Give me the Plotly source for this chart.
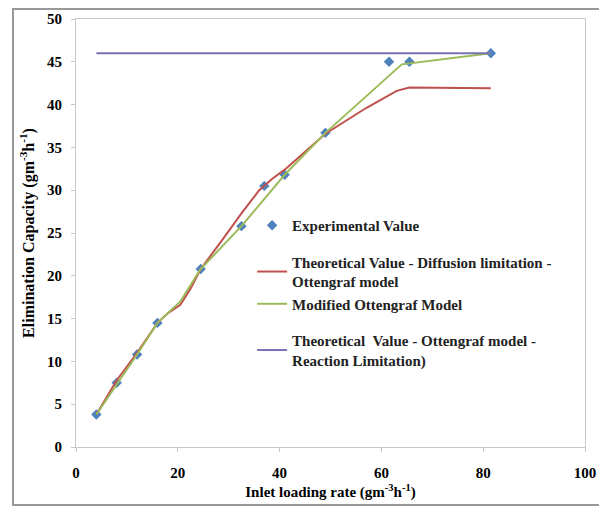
import plotly.graph_objects as go

# Experimental values
exp_x = [4, 8, 12, 16, 24.5, 32.5, 37, 41, 49, 61.5, 65.5, 81.5]
exp_y = [3.8, 7.5, 10.8, 14.5, 20.8, 25.8, 30.5, 31.8, 36.7, 45.0, 45.0, 46.0]

# Theoretical - diffusion limitation - Ottengraf
diff_x = [4, 8, 12, 16, 18, 20.5, 22.5, 24.5, 28.5, 32.5, 36, 38.5, 41, 49, 57, 63, 65.5, 81.5]
diff_y = [3.8, 7.8, 11.0, 14.5, 15.6, 16.6, 18.5, 20.8, 24.0, 27.3, 30.0, 31.3, 32.4, 36.6, 39.6, 41.6, 42.0, 41.9]

# Modified Ottengraf model
mod_x = [4, 8, 12, 16, 20.5, 24.5, 32.5, 41, 49, 64, 81.5]
mod_y = [3.8, 7.3, 10.8, 14.5, 17.0, 20.8, 25.8, 31.8, 36.7, 44.7, 46.0]

# Theoretical - Ottengraf model - reaction limitation
rea_x = [4, 81.5]
rea_y = [46.0, 46.0]

serif = "Liberation Serif"

fig = go.Figure()
fig.add_trace(go.Scatter(x=exp_x, y=exp_y, mode="markers", name="Experimental Value",
                         legendgroup="a",
                         marker=dict(symbol="diamond", size=8, color="#4F81BD")))
fig.add_trace(go.Scatter(x=diff_x, y=diff_y, mode="lines", legendgroup="b",
                         name="Theoretical Value - Diffusion limitation -<br>Ottengraf model",
                         line=dict(color="#C0504D", width=2)))
fig.add_trace(go.Scatter(x=mod_x, y=mod_y, mode="lines", legendgroup="b",
                         name="Modified Ottengraf Model",
                         line=dict(color="#9BBB59", width=2)))
fig.add_trace(go.Scatter(x=rea_x, y=rea_y, mode="lines", legendgroup="c",
                         name="Theoretical  Value - Ottengraf model -<br>Reaction Limitation)",
                         line=dict(color="#7672B4", width=2)))

fig.update_layout(
    width=599, height=500,
    margin=dict(l=68, r=22, t=11, b=61),
    paper_bgcolor="white", plot_bgcolor="white",
    font=dict(family=serif, size=15, color="black"),
    showlegend=True,
    legend=dict(x=0.346, y=0.556, xanchor="left", yanchor="top",
                bgcolor="rgba(0,0,0,0)", tracegroupgap=14,
                font=dict(family=serif, size=15, color="#222", weight="bold")),
    xaxis=dict(range=[0, 100], dtick=20, showgrid=False, zeroline=False,
               automargin=False,
               showline=True, linecolor="#c8c8c8", linewidth=1, mirror=True,
               ticks="outside", ticklen=4, tickcolor="#c8c8c8", ticklabelstandoff=8,
               tickfont=dict(family=serif, size=15, weight="bold"),
               title=dict(text="Inlet loading rate (gm<sup>-3</sup>h<sup>-1</sup>)",
                          font=dict(family=serif, size=15, weight="bold"), standoff=6)),
    yaxis=dict(range=[0, 50], dtick=5, showgrid=False, zeroline=False,
               automargin=False,
               showline=True, linecolor="#c8c8c8", linewidth=1, mirror=True,
               ticks="outside", ticklen=4, tickcolor="#c8c8c8", ticklabelstandoff=6,
               tickfont=dict(family=serif, size=15, weight="bold"),
               title=dict(text="Elimination Capacity (gm<sup>-3</sup>h<sup>-1</sup>)",
                          font=dict(family=serif, size=16, weight="bold"), standoff=8)),
)

# outer chart frame
fig.add_shape(type="rect", xref="paper", yref="paper", layer="above",
              x0=-0.1238, x1=1.0354, y0=-0.1355, y1=1.0234,
              line=dict(color="#999999", width=2))

fig.write_html("out.html")
